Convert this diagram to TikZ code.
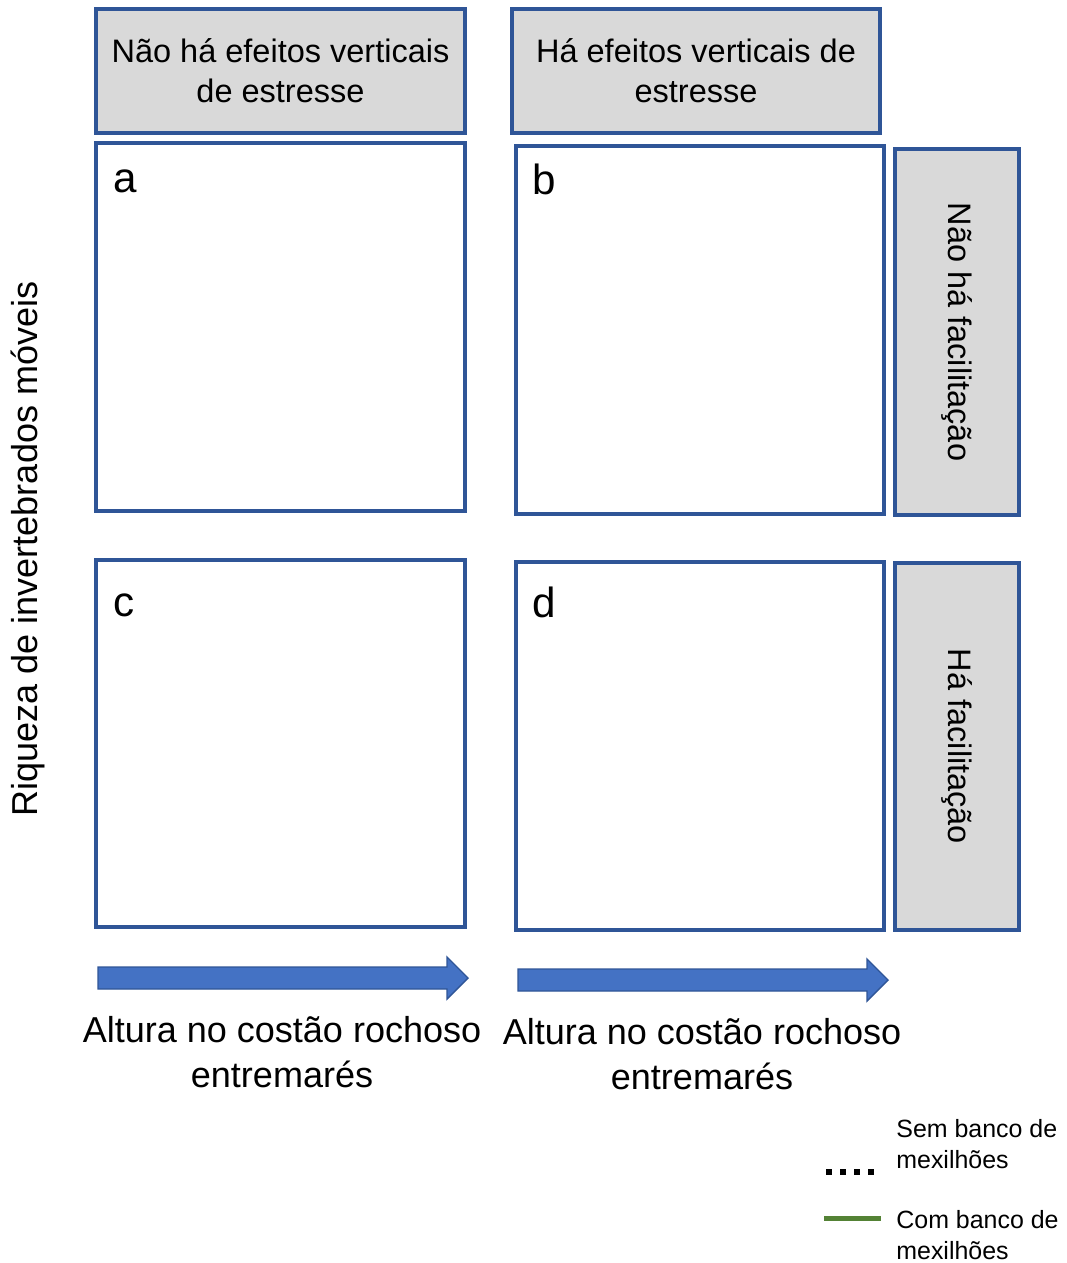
\documentclass[tikz,border=0pt]{standalone}
\usepackage{fontspec}
\setmainfont{Liberation Sans}
\definecolor{boxblue}{HTML}{2F5597}
\definecolor{boxgray}{HTML}{D9D9D9}
\definecolor{arrowblue}{HTML}{4472C4}
\definecolor{musselgreen}{HTML}{548235}
\tikzset{
  headbox/.style={draw=boxblue,fill=boxgray,line width=1.9pt,inner sep=0pt,
    align=center,font=\fontsize{18.5}{22.7}\selectfont},
  sidetext/.style={inner sep=0pt,font=\fontsize{18.5}{22.7}\selectfont},
  panel/.style={draw=boxblue,fill=white,line width=1.9pt,inner sep=0pt},
  panelletter/.style={font=\fontsize{24}{28}\selectfont,inner sep=0pt},
  axislabel/.style={align=center,font=\fontsize{20.5}{25.5}\selectfont},
  bigarrow/.style={draw=boxblue,fill=arrowblue,line width=0.8pt,line join=miter},
  legendtext/.style={anchor=west,align=left,inner sep=0pt,font=\fontsize{14.2}{17.6}\selectfont}
}
\begin{document}
\begin{tikzpicture}[x=0.02cm,y=-0.02cm]
\useasboundingbox (0,0) rectangle (1067,1263);
% column headers
\node[headbox,minimum width=7.38cm,minimum height=2.48cm] (head1) at (280.5,71) {Não há efeitos verticais\\de estresse};
\node[headbox,minimum width=7.36cm,minimum height=2.48cm] (head2) at (696,71) {Há efeitos verticais de\\estresse};
% panels
\node[panel,minimum width=7.38cm,minimum height=7.36cm] (pa) at (280.5,327) {};
\node[panel,minimum width=7.36cm,minimum height=7.36cm] (pb) at (700,330) {};
\node[panel,minimum width=7.38cm,minimum height=7.34cm] (pc) at (280.5,743.5) {};
\node[panel,minimum width=7.36cm,minimum height=7.36cm] (pd) at (700,746) {};
\node[panelletter] (la) at (125,181) {a};
\node[panelletter] (lb) at (544,179) {b};
\node[panelletter] (lc) at (124,605) {c};
\node[panelletter] (ld) at (544,602) {d};
% row headers
\node[headbox,minimum width=2.48cm,minimum height=7.32cm] (side1) at (957,332) {};
\node[sidetext,rotate=-90] (side1t) at (side1.center) {Não há facilitação};
\node[headbox,minimum width=2.48cm,minimum height=7.34cm] (side2) at (957,746.5) {};
\node[sidetext,rotate=-90] (side2t) at (side2.center) {Há facilitação};
% axes
\node[axislabel,rotate=90] (ylab) at (28,549) {Riqueza de invertebrados móveis};
\draw[bigarrow] (98,967) -- (447,967) -- (447,957) -- (468,978) -- (447,999) -- (447,989) -- (98,989) -- cycle;
\draw[bigarrow] (518,969) -- (867,969) -- (867,959) -- (888,980) -- (867,1001) -- (867,991) -- (518,991) -- cycle;
\node[axislabel] (xlab1) at (282,1052) {Altura no costão rochoso\\entremarés};
\node[axislabel] (xlab2) at (702,1054) {Altura no costão rochoso\\entremarés};
% legend
\coordinate (dotA) at (826,1172);
\coordinate (dotB) at (880,1172);
\coordinate (lineA) at (824,1218);
\coordinate (lineB) at (881,1218);
\draw[black,line width=0.11cm,dash pattern=on 0.12cm off 0.16cm] (dotA) -- (dotB);
\draw[musselgreen,line width=0.1cm] (lineA) -- (lineB);
\node[legendtext] (leg1) at (896,1144) {Sem banco de\\mexilhões};
\node[legendtext] (leg2) at (896,1235) {Com banco de\\mexilhões};
\end{tikzpicture}
\end{document}
